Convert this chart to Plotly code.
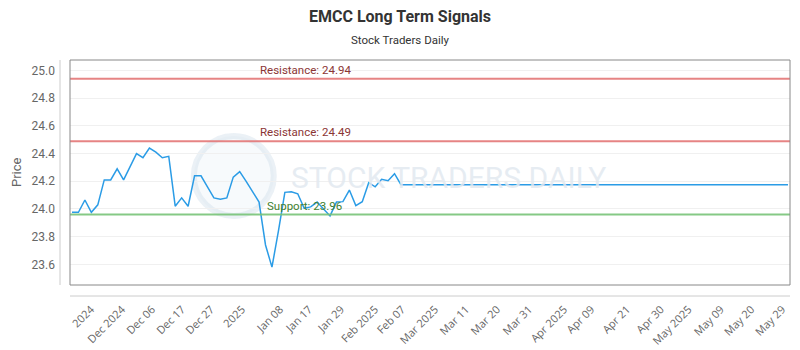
import plotly.graph_objects as go

# ---- data ----
price = [23.976, 23.976, 24.065, 23.976, 24.03, 24.21, 24.21, 24.29, 24.21, 24.30,
         24.40, 24.37, 24.44, 24.41, 24.37, 24.38, 24.02, 24.08, 24.02, 24.24,
         24.24, 24.16, 24.08, 24.07, 24.08, 24.23, 24.27, 24.20, 24.125, 24.05,
         23.74, 23.58, 23.84, 24.12, 24.125, 24.11, 24.005, 24.015, 24.05, 24.00,
         23.95, 24.05, 24.053, 24.137, 24.024, 24.053, 24.19, 24.16, 24.214, 24.204,
         24.255, 24.175]
projection = [24.175] * 60          # flat projected level to the end of the axis

tick_labels = ["2024", "Dec 2024", "Dec 06", "Dec 17", "Dec 27", "2025", "Jan 08",
               "Jan 17", "Jan 29", "Feb 2025", "Feb 07", "Mar 2025", "Mar 11",
               "Mar 20", "Mar 31", "Apr 2025", "Apr 09", "Apr 21", "Apr 30",
               "May 2025", "May 09", "May 20", "May 29"]
tick_index = [2.95, 7.75, 12.4, 17.05, 21.55, 26.36, 32.25, 36.74, 41.7, 46.98,
              51.16, 56.3, 61.1, 65.9, 70.85, 76.3, 80.5, 86.05, 91.3, 95.6,
              100.6, 105.3, 110.1]

resistance = [24.94, 24.49]
support = [23.96]

y_ticks = [23.6, 23.8, 24.0, 24.2, 24.4, 24.6, 24.8, 25.0]

# ---- figure ----
values = price + projection
x = list(range(len(values)))

fig = go.Figure()
fig.add_trace(go.Scatter(x=x, y=values, mode="lines",
                         line=dict(color="#2b9ce6", width=1.5),
                         hoverinfo="x+y", showlegend=False))

shapes = []
annotations = []

# watermark
shapes.append(dict(type="circle", xref="paper", yref="paper",
                   x0=0.172, x1=0.283, y0=0.307, y1=0.662,
                   line=dict(color="rgba(205,220,232,0.4)", width=6),
                   fillcolor="rgba(230,237,244,0.3)", layer="below"))
annotations.append(dict(text="STOCK TRADERS DAILY", xref="paper", yref="paper",
                        x=0.526, y=0.476, showarrow=False,
                        font=dict(family="Roboto", size=30, color="rgba(226,233,240,0.85)")))

for lvl in resistance:
    shapes.append(dict(type="line", xref="paper", yref="y", x0=0, x1=1, y0=lvl, y1=lvl,
                       line=dict(color="rgba(226,110,110,0.85)", width=2)))
    annotations.append(dict(text=f"Resistance: {lvl:.2f}", xref="paper", yref="y",
                            x=0.261, y=lvl, xanchor="left", yanchor="bottom", yshift=0,
                            showarrow=False,
                            font=dict(family="Roboto", size=11.5, color="#8b3535")))
for lvl in support:
    shapes.append(dict(type="line", xref="paper", yref="y", x0=0, x1=1, y0=lvl, y1=lvl,
                       line=dict(color="rgba(120,195,120,0.9)", width=2)))
    annotations.append(dict(text=f"Support: {lvl:.2f}", xref="paper", yref="y",
                            x=0.271, y=lvl, xanchor="left", yanchor="bottom", yshift=0,
                            showarrow=False,
                            font=dict(family="Roboto", size=11.5, color="#3f7f2f")))

# plot border and offset axis lines
shapes.append(dict(type="rect", xref="paper", yref="paper", x0=0, x1=1, y0=0, y1=1,
                   line=dict(color="#888888", width=1)))
shapes.append(dict(type="line", xref="paper", yref="paper", x0=-10 / 720, x1=-10 / 720,
                   y0=0, y1=1, line=dict(color="#cccccc", width=1)))
shapes.append(dict(type="line", xref="paper", yref="paper", x0=0, x1=1,
                   y0=-11 / 225, y1=-11 / 225, line=dict(color="#cccccc", width=1)))

# subtitle and y title
annotations.append(dict(text="Stock Traders Daily", xref="paper", yref="paper",
                        x=(400 - 70) / 720, y=1 + 20 / 225, showarrow=False,
                        xanchor="center", yanchor="middle",
                        font=dict(family="Roboto", size=11.5, color="#333333")))
annotations.append(dict(text="Price", xref="paper", yref="paper",
                        x=(16 - 70) / 720, y=0.502, showarrow=False, textangle=-90,
                        xanchor="center", yanchor="middle",
                        font=dict(family="Roboto", size=13, color="#666666")))

fig.update_layout(
    width=800, height=350,
    margin=dict(l=70, r=10, t=60, b=65, autoexpand=False),
    paper_bgcolor="white", plot_bgcolor="white",
    title=dict(text="<b>EMCC Long Term Signals</b>", x=0.5, xanchor="center",
               y=1 - 16 / 350, yanchor="middle", yref="container",
               font=dict(family="Roboto", size=16, color="#333333")),
    shapes=shapes, annotations=annotations,
    xaxis=dict(range=[-0.31, len(values) - 1 + 0.31], tickmode="array",
               tickvals=tick_index, ticktext=tick_labels, tickangle=-45,
               showgrid=False, zeroline=False, showline=False, ticks="",
               ticklabelstandoff=15, automargin=False,
               tickfont=dict(family="Open Sans", size=11, color="#666666")),
    yaxis=dict(range=[23.451, 25.076], tickmode="array", tickvals=y_ticks,
               ticktext=[f"{v:.1f}" for v in y_ticks],
               showgrid=True, gridcolor="#f0f0f0", gridwidth=1,
               zeroline=False, showline=False, ticks="", ticklabelstandoff=14,
               automargin=False,
               tickfont=dict(family="Roboto", size=12, color="#666666")),
    hovermode="closest",
)

fig.write_html("out.html")
